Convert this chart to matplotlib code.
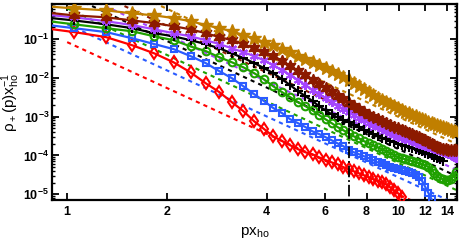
import numpy as np
import matplotlib
matplotlib.use("Agg")
import matplotlib.pyplot as plt
from matplotlib.ticker import LogLocator, FixedLocator, FixedFormatter, NullLocator, NullFormatter

plt.rcParams['font.family'] = ['Liberation Sans', 'DejaVu Sans']
plt.rcParams['font.weight'] = 'bold'
plt.rcParams['mathtext.fontset'] = 'custom'
plt.rcParams['mathtext.rm'] = 'Liberation Sans:bold'
plt.rcParams['mathtext.it'] = 'Liberation Sans:bold'
plt.rcParams['mathtext.bf'] = 'Liberation Sans:bold'

# momentum grid index (p = k * pi/12)
k_index = np.arange(3, 58)
p_grid = k_index * np.pi / 12

# log10 of rho_+(p) x_ho^-1
gold_log = [-0.13, -0.21, -0.26, -0.34, -0.39, -0.46, -0.54, -0.64, -0.72, -0.80, -0.90, -0.98, -1.08, -1.16,
            -1.26, -1.34, -1.44, -1.52, -1.60, -1.68, -1.75, -1.83, -1.91, -1.98, -2.06, -2.14, -2.22, -2.29,
            -2.37, -2.45, -2.53, -2.58, -2.63, -2.68, -2.73, -2.78, -2.84, -2.89, -2.91, -2.96, -2.99, -3.04,
            -3.07, -3.09, -3.14, -3.17, -3.20, -3.22, -3.25, -3.27, -3.30, -3.32, -3.35, -3.38, -3.40]
darkred_log = [-0.28, -0.39, -0.44, -0.52, -0.59, -0.67, -0.75, -0.85, -0.95, -1.03, -1.13, -1.24, -1.34, -1.44,
               -1.57, -1.70, -1.83, -1.93, -2.06, -2.16, -2.27, -2.37, -2.47, -2.55, -2.65, -2.73, -2.81, -2.89,
               -2.96, -3.02, -3.07, -3.12, -3.17, -3.22, -3.27, -3.30, -3.35, -3.38, -3.43, -3.45, -3.51, -3.53,
               -3.58, -3.61, -3.66, -3.71, -3.74, -3.79, -3.81, -3.84, -3.84, -3.87, -3.87, -3.87, -3.87]
purple_log = [-0.34, -0.44, -0.54, -0.64, -0.75, -0.85, -0.93, -1.03, -1.13, -1.24, -1.34, -1.44, -1.55, -1.68,
              -1.80, -1.93, -2.06, -2.19, -2.32, -2.42, -2.53, -2.63, -2.73, -2.81, -2.89, -2.96, -3.04, -3.09,
              -3.17, -3.22, -3.27, -3.32, -3.38, -3.43, -3.48, -3.53, -3.56, -3.58, -3.61, -3.63, -3.69, -3.71,
              -3.74, -3.76, -3.79, -3.81, -3.84, -3.87, -3.89, -3.92, -3.94, -3.97, -3.99, -4.05, -4.07]
black_log = [-0.41, -0.52, -0.62, -0.72, -0.85, -0.93, -1.03, -1.13, -1.24, -1.37, -1.49, -1.62, -1.75, -1.88,
             -2.04, -2.19, -2.35, -2.47, -2.60, -2.73, -2.84, -2.94, -3.02, -3.09, -3.14, -3.22, -3.27, -3.35,
             -3.40, -3.45, -3.51, -3.56, -3.58, -3.63, -3.66, -3.71, -3.74, -3.76, -3.79, -3.81, -3.84, -3.87,
             -3.89, -3.94, -3.97, -3.99, -4.05, -4.07, -4.10, -4.15]
green_log = [-0.49, -0.62, -0.72, -0.80, -0.93, -1.03, -1.19, -1.31, -1.47, -1.60, -1.73, -1.88, -2.04, -2.22,
             -2.37, -2.50, -2.63, -2.73, -2.84, -2.96, -3.07, -3.17, -3.27, -3.35, -3.43, -3.51, -3.56, -3.63,
             -3.69, -3.74, -3.79, -3.84, -3.89, -3.94, -3.99, -4.05, -4.07, -4.10, -4.12, -4.15, -4.18, -4.20,
             -4.23, -4.25, -4.30, -4.38, -4.46, -4.54, -4.59, -4.61, -4.64, -4.64, -4.61, -4.54, -4.43]
blue_log = [-0.59, -0.72, -0.82, -0.98, -1.13, -1.26, -1.44, -1.62, -1.83, -2.01, -2.22, -2.42, -2.60, -2.78,
            -2.91, -3.07, -3.17, -3.27, -3.38, -3.45, -3.53, -3.61, -3.69, -3.76, -3.87, -3.92, -3.97, -4.02,
            -4.07, -4.12, -4.18, -4.20, -4.25, -4.30, -4.33, -4.36, -4.38, -4.41, -4.43, -4.46, -4.51, -4.56,
            -4.66, -4.82, -4.97, -5.13]
red_log = [-0.68, -0.82, -0.95, -1.16, -1.37, -1.60, -1.86, -2.14, -2.37, -2.63, -2.86, -3.12, -3.32, -3.51,
           -3.63, -3.74, -3.84, -3.92, -3.97, -4.05, -4.12, -4.18, -4.23, -4.30, -4.36, -4.41, -4.46, -4.51,
           -4.56, -4.61, -4.66, -4.69, -4.74, -4.82, -4.90, -4.97, -5.08]

# dashed tail lines: log10 values at p = 1 and p = 15
tail_p = [1.0, 15.0]
gold_tail_log = [0.98, -3.71]
darkred_tail_log = [0.54, -4.15]
purple_tail_log = [0.31, -4.38]
black_tail_log = [0.15, -4.54]
green_tail_log = [-0.21, -4.90]
blue_tail_log = [-0.62, -5.26]
red_tail_log = [-1.08, -5.70]

cut_p = 7.06
cut_top = 0.016

series = [
    (gold_log, gold_tail_log, '#C07F00', dict(marker='*', ms=10, mfc='#C07F00', mec='#C07F00', mew=1.0)),
    (darkred_log, darkred_tail_log, '#8C1A00', dict(marker=(6, 1, 0), ms=9, mfc='#8C1A00', mec='#8C1A00', mew=1.0)),
    (purple_log, purple_tail_log, '#A545FF', dict(marker=(6, 2, 0), ms=6.5, mfc='none', mec='#A545FF', mew=1.5)),
    (black_log, black_tail_log, '#000000', dict(marker='+', ms=7, mec='#000000', mew=1.5)),
    (green_log, green_tail_log, '#1FA000', dict(marker='o', ms=5.5, mfc='none', mec='#1FA000', mew=1.5)),
    (blue_log, blue_tail_log, '#2A5BFF', dict(marker='s', ms=4.8, mfc='none', mec='#2A5BFF', mew=1.5)),
    (red_log, red_tail_log, '#FF0000', dict(marker='d', ms=6.5, mfc='none', mec='#FF0000', mew=1.5)),
]

fig = plt.figure(figsize=(4.63, 2.45), dpi=100)
ax = fig.add_axes([52/463, 1-200/245, (457-52)/463, (200-4)/245])
ax.set_xscale('log')
ax.set_yscale('log')

for vals, tail, col, mk in series:
    ax.plot(tail_p, 10**np.array(tail), ls=(0, (2, 2)), color=col, lw=1.5, zorder=2)
for vals, tail, col, mk in reversed(series):
    n = len(vals)
    pp = p_grid[:n]
    ax.plot(pp, 10**np.array(vals), '-', color=col, lw=1.6, zorder=3, **mk)

ax.plot([cut_p, cut_p], [cut_top, 1e-6], ls='-.', color='black', lw=1.3, zorder=4)

ax.set_xlim(0.9, 15)
ax.set_ylim(7.1e-6, 0.8)
ax.xaxis.set_major_locator(FixedLocator([1, 2, 4, 6, 8, 10, 12, 14]))
ax.xaxis.set_major_formatter(FixedFormatter(['1', '2', '4', '6', '8', '10', '12', '14']))
ax.xaxis.set_minor_locator(NullLocator())
ax.yaxis.set_major_locator(LogLocator(base=10, numticks=10))
ax.yaxis.set_minor_locator(LogLocator(base=10, subs=np.arange(2, 10), numticks=10))
ax.yaxis.set_minor_formatter(NullFormatter())
ax.tick_params(which='both', direction='in', top=True, right=True, labelsize=9)
ax.tick_params(axis='y', which='major', pad=2)
ax.tick_params(axis='x', which='major', pad=4)
ax.tick_params(which='major', length=5, width=1.3)
ax.tick_params(which='minor', length=2.5, width=1.0)
for s in ax.spines.values():
    s.set_linewidth(1.6)
for lab in ax.get_xticklabels() + ax.get_yticklabels():
    lab.set_fontweight('bold')

ax.set_xlabel(r'$\mathregular{px_{ho}}$', fontsize=11)
ax.xaxis.set_label_coords(0.5, -0.13)
ax.set_ylabel(r'$\mathregular{\rho_+(p)x_{ho}^{-1}}$', fontsize=11)
ax.yaxis.set_label_coords(-0.075, 0.5)

fig.savefig('out.png', dpi=100)
